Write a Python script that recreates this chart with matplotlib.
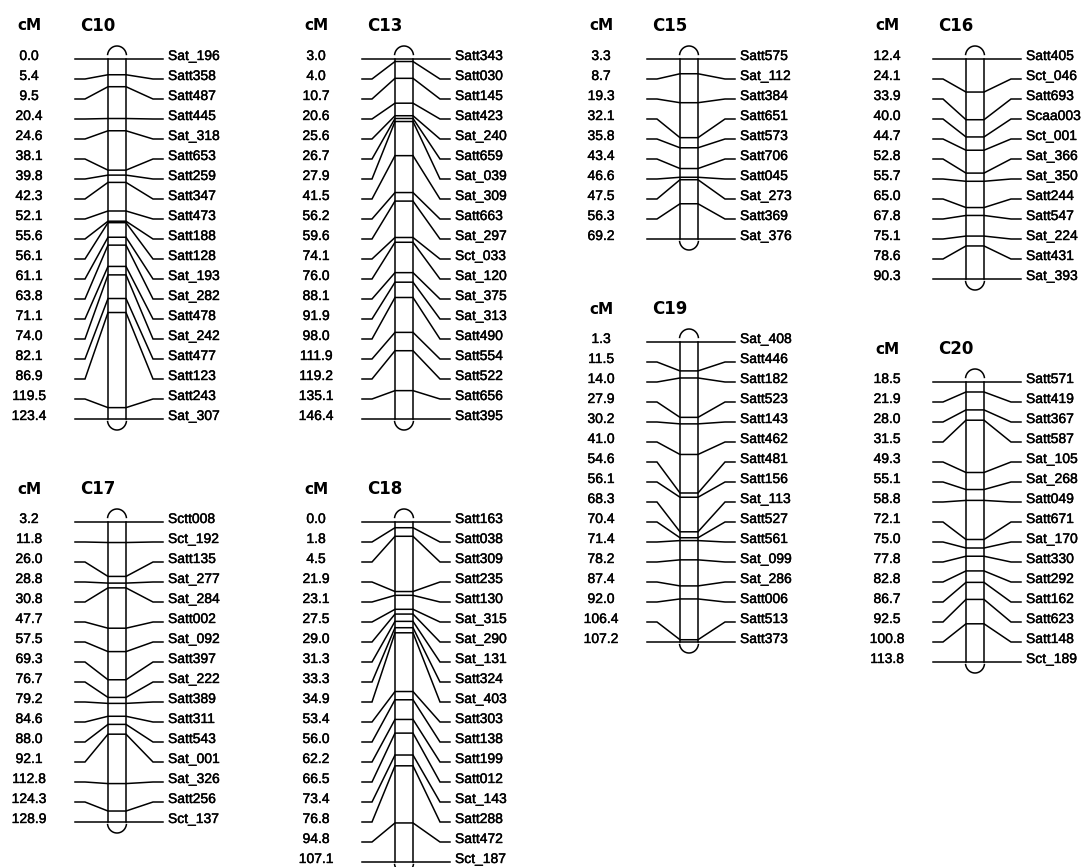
import matplotlib
matplotlib.use("Agg")
import matplotlib.pyplot as plt
import matplotlib.patheffects as pe
import numpy as np

plt.rcParams['font.family'] = ['Liberation Sans', 'DejaVu Sans']

# linkage groups: marker positions (cM) and marker names
c10_cm = [0.0, 5.4, 9.5, 20.4, 24.6, 38.1, 39.8, 42.3, 52.1, 55.6, 56.1, 61.1,
          63.8, 71.1, 74.0, 82.1, 86.9, 119.5, 123.4]
c10_mk = ['Sat_196', 'Satt358', 'Satt487', 'Satt445', 'Sat_318', 'Satt653', 'Satt259',
          'Satt347', 'Satt473', 'Satt188', 'Satt128', 'Sat_193', 'Sat_282', 'Satt478',
          'Sat_242', 'Satt477', 'Satt123', 'Satt243', 'Sat_307']

c13_cm = [3.0, 4.0, 10.7, 20.6, 25.6, 26.7, 27.9, 41.5, 56.2, 59.6, 74.1, 76.0,
          88.1, 91.9, 98.0, 111.9, 119.2, 135.1, 146.4]
c13_mk = ['Satt343', 'Satt030', 'Satt145', 'Satt423', 'Sat_240', 'Satt659', 'Sat_039',
          'Sat_309', 'Satt663', 'Sat_297', 'Sct_033', 'Sat_120', 'Sat_375', 'Sat_313',
          'Satt490', 'Satt554', 'Satt522', 'Satt656', 'Satt395']

c15_cm = [3.3, 8.7, 19.3, 32.1, 35.8, 43.4, 46.6, 47.5, 56.3, 69.2]
c15_mk = ['Satt575', 'Sat_112', 'Satt384', 'Satt651', 'Satt573', 'Satt706', 'Satt045',
          'Sat_273', 'Satt369', 'Sat_376']

c16_cm = [12.4, 24.1, 33.9, 40.0, 44.7, 52.8, 55.7, 65.0, 67.8, 75.1, 78.6, 90.3]
c16_mk = ['Satt405', 'Sct_046', 'Satt693', 'Scaa003', 'Sct_001', 'Sat_366', 'Sat_350',
          'Satt244', 'Satt547', 'Sat_224', 'Satt431', 'Sat_393']

c17_cm = [3.2, 11.8, 26.0, 28.8, 30.8, 47.7, 57.5, 69.3, 76.7, 79.2, 84.6, 88.0,
          92.1, 112.8, 124.3, 128.9]
c17_mk = ['Sctt008', 'Sct_192', 'Satt135', 'Sat_277', 'Sat_284', 'Satt002', 'Sat_092',
          'Satt397', 'Sat_222', 'Satt389', 'Satt311', 'Satt543', 'Sat_001', 'Sat_326',
          'Satt256', 'Sct_137']

c18_cm = [0.0, 1.8, 4.5, 21.9, 23.1, 27.5, 29.0, 31.3, 33.3, 34.9, 53.4, 56.0,
          62.2, 66.5, 73.4, 76.8, 94.8, 107.1]
c18_mk = ['Satt163', 'Satt038', 'Satt309', 'Satt235', 'Satt130', 'Sat_315', 'Sat_290',
          'Sat_131', 'Satt324', 'Sat_403', 'Satt303', 'Satt138', 'Satt199', 'Satt012',
          'Sat_143', 'Satt288', 'Satt472', 'Sct_187']

c19_cm = [1.3, 11.5, 14.0, 27.9, 30.2, 41.0, 54.6, 56.1, 68.3, 70.4, 71.4, 78.2,
          87.4, 92.0, 106.4, 107.2]
c19_mk = ['Sat_408', 'Satt446', 'Satt182', 'Satt523', 'Satt143', 'Satt462', 'Satt481',
          'Satt156', 'Sat_113', 'Satt527', 'Satt561', 'Sat_099', 'Sat_286', 'Satt006',
          'Satt513', 'Satt373']

c20_cm = [18.5, 21.9, 28.0, 31.5, 49.3, 55.1, 58.8, 72.1, 75.0, 77.8, 82.8, 86.7,
          92.5, 100.8, 113.8]
c20_mk = ['Satt571', 'Satt419', 'Satt367', 'Satt587', 'Sat_105', 'Sat_268', 'Satt049',
          'Satt671', 'Sat_170', 'Satt330', 'Satt292', 'Satt162', 'Satt623', 'Satt148',
          'Sct_189']

groups = [
    ('C10', c10_cm, c10_mk, 0, 59),
    ('C13', c13_cm, c13_mk, 287, 59),
    ('C15', c15_cm, c15_mk, 572, 59),
    ('C16', c16_cm, c16_mk, 858, 59),
    ('C17', c17_cm, c17_mk, 0, 522),
    ('C18', c18_cm, c18_mk, 287, 522),
    ('C19', c19_cm, c19_mk, 572, 342),
    ('C20', c20_cm, c20_mk, 858, 382),
]

W, H = 1086, 867
fig = plt.figure(figsize=(W / 100, H / 100), dpi=100)
ax = fig.add_axes([0, 0, 1, 1])
ax.set_xlim(0, W)
ax.set_ylim(H, 0)
ax.axis('off')

row = 20        # spacing between marker labels
lw = 1.1
col = 'black'
heavy = [pe.withStroke(linewidth=0.3, foreground=col)]


def draw_group(name, cm, mk, x0, y0):
    cm = np.array(cm)
    n = len(cm)
    label_y = y0 + row * np.arange(n)
    bar_y = y0 + (cm - cm[0]) / (cm[-1] - cm[0]) * row * (n - 1)

    xl, xr = x0 + 75, x0 + 163      # ends of the marker lines
    bl, br = x0 + 108, x0 + 126     # chromosome bar edges
    bc = (bl + br) / 2

    # headers
    ax.text(x0 + 29, y0 - 33, 'cM', ha='center', va='center', fontsize=11,
            fontweight='bold', family='DejaVu Sans', color=col)
    ax.text(x0 + 80, y0 - 33, name, ha='left', va='center', fontsize=12,
            fontweight='bold', family='DejaVu Sans', color=col)

    # chromosome body
    ax.plot([bl, bl], [bar_y[0], bar_y[-1]], color=col, lw=lw)
    ax.plot([br, br], [bar_y[0], bar_y[-1]], color=col, lw=lw)
    t = np.linspace(np.pi * 1.05, np.pi * 1.95, 40)
    ax.plot(bc + 9.5 * np.cos(t), bar_y[0] - 3 + 10 * np.sin(t), color=col, lw=lw)
    t = np.linspace(np.pi * 0.05, np.pi * 0.95, 40)
    ax.plot(bc + 9.5 * np.cos(t), bar_y[-1] + 1 + 10 * np.sin(t), color=col, lw=lw)

    for i in range(n):
        ly, by = label_y[i], bar_y[i]
        xs = [xl, xl + 10, bl, br, xr - 10, xr]
        ys = [ly, ly, by, by, ly, ly]
        ax.plot(xs, ys, color=col, lw=lw, solid_joinstyle='miter')
        ax.text(x0 + 29, ly + 1, f'{cm[i]:.1f}', ha='center', va='baseline',
                fontsize=10, color=col, path_effects=heavy)
        ax.text(x0 + 168, ly + 1, mk[i], ha='left', va='baseline',
                fontsize=10, color=col, path_effects=heavy)


for g in groups:
    draw_group(*g)

fig.savefig('out.png', dpi=100, facecolor='white')
